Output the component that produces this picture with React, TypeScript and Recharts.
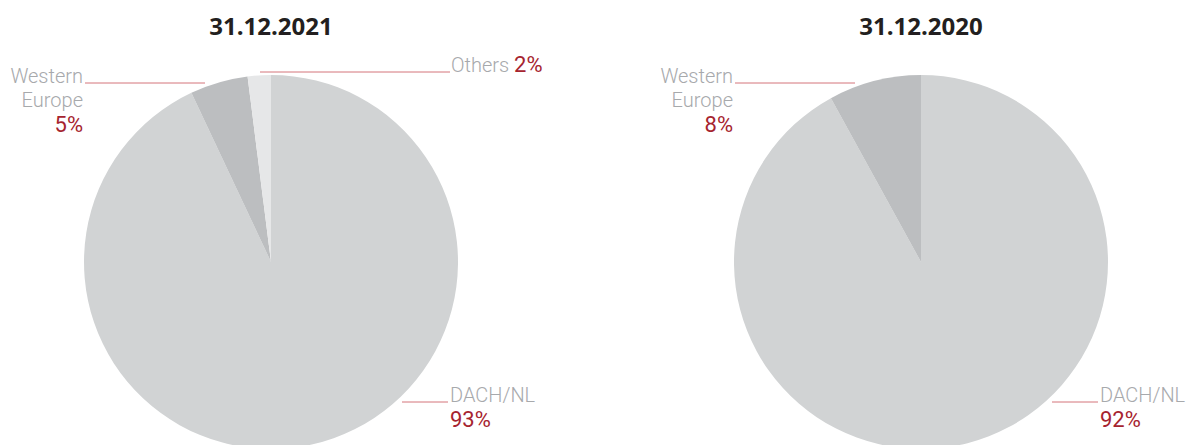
import { PieChart, Pie, Cell, Customized } from "recharts";

const regions2021 = ["DACH/NL", "Western Europe", "Others"];
const shares2021 = [93, 5, 2];
const regions2020 = ["DACH/NL", "Western Europe"];
const shares2020 = [92, 8];
const titles = ["31.12.2021", "31.12.2020"];

const sliceColors: Record<string, string> = {
  "DACH/NL": "#d1d3d4",
  "Western Europe": "#bcbec0",
  Others: "#e6e7e8",
};

const GREY = "#a7a9ac";
const RED = "#a6242f";
const LINE = "#d4747b";
const FONT = "Roboto, 'Liberation Sans', sans-serif";

const RADIUS = 187;
const CY = 262;
const CENTERS = [271, 921];

const toRows = (names: string[], values: number[]) =>
  names.map((name, i) => ({ name, value: values[i] }));

const data2021 = toRows(regions2021, shares2021);
const data2020 = toRows(regions2020, shares2020);

function renderLabel(props: any) {
  const { cx, cy, name, value } = props;
  const pct = `${value}%`;
  if (name === "Western Europe") {
    const tx = cx - 188;
    const ly = cy - 179;
    return (
      <g>
        <line x1={tx + 2} x2={cx - 66} y1={ly} y2={ly} stroke={LINE} strokeWidth={1} />
        <text x={tx} y={ly} textAnchor="end" fontFamily={FONT} fontWeight={300} fontSize={20} fill={GREY}>
          Western
        </text>
        <text x={tx} y={ly + 24} textAnchor="end" fontFamily={FONT} fontWeight={300} fontSize={20} fill={GREY}>
          Europe
        </text>
        <text x={tx} y={ly + 49} textAnchor="end" fontFamily={FONT} fontSize={22} fill={RED}>
          {pct}
        </text>
      </g>
    );
  }
  if (name === "Others") {
    const ly = cy - 190;
    return (
      <g>
        <line x1={cx - 11} x2={cx + 179} y1={ly} y2={ly} stroke={LINE} strokeWidth={1} />
        <text x={cx + 180} y={ly} fontFamily={FONT} fontWeight={300} fontSize={20} fill={GREY}>
          Others{" "}
          <tspan fill={RED} fontSize={22} fontWeight={400}>
            {pct}
          </tspan>
        </text>
      </g>
    );
  }
  const ly = cy + 140;
  return (
    <g>
      <line x1={cx + 131} x2={cx + 177} y1={ly} y2={ly} stroke={LINE} strokeWidth={1} />
      <text x={cx + 179} y={ly} fontFamily={FONT} fontWeight={300} fontSize={20} fill={GREY}>
        {name}
      </text>
      <text x={cx + 179} y={ly + 25} fontFamily={FONT} fontSize={22} fill={RED}>
        {pct}
      </text>
    </g>
  );
}

function Titles() {
  return (
    <g>
      {titles.map((t, i) => (
        <text
          key={t}
          x={CENTERS[i]}
          y={35}
          textAnchor="middle"
          fontFamily="'Open Sans', sans-serif"
          fontWeight={700}
          fontSize={24}
          fill="#231f20"
        >
          {t}
        </text>
      ))}
    </g>
  );
}

export default function App() {
  return (
    <div style={{ position: "absolute", left: 0, top: 0, background: "#fff" }}>
      <PieChart width={1188} height={445} margin={{ top: 0, right: 0, bottom: 0, left: 0 }}>
        {[data2021, data2020].map((rows, i) => (
          <Pie
            key={titles[i]}
            data={rows}
            dataKey="value"
            nameKey="name"
            cx={CENTERS[i]}
            cy={CY}
            outerRadius={RADIUS}
            startAngle={90}
            endAngle={-270}
            stroke="none"
            label={renderLabel}
            labelLine={false}
            isAnimationActive={false}
          >
            {rows.map((r) => (
              <Cell key={r.name} fill={sliceColors[r.name]} />
            ))}
          </Pie>
        ))}
        <Customized component={Titles} />
      </PieChart>
    </div>
  );
}
